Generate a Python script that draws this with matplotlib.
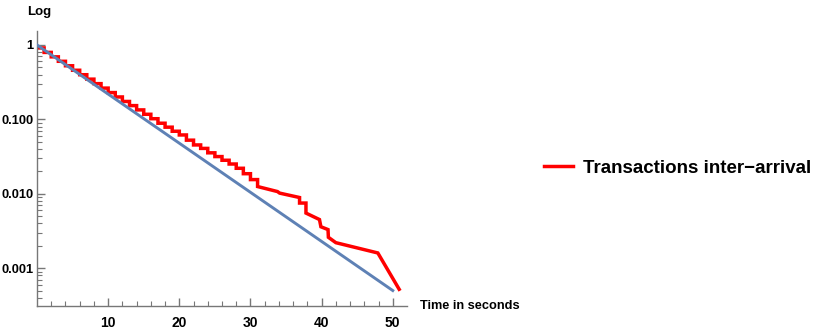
import numpy as np
import matplotlib
matplotlib.use("Agg")
import matplotlib.pyplot as plt
from matplotlib.ticker import FixedLocator, NullFormatter

plt.rcParams['font.family'] = ['Liberation Sans', 'DejaVu Sans']

# red staircase: level held on [k, k+1] for k = 0..30
step_start = list(range(0, 31))
step_level = [0.912, 0.794, 0.692, 0.603, 0.525, 0.457, 0.398, 0.347, 0.302, 0.263,
              0.229, 0.200, 0.174, 0.153, 0.134, 0.117, 0.102, 0.0887, 0.0785, 0.0692,
              0.0617, 0.0525, 0.0453, 0.0407, 0.0355, 0.0316, 0.0282, 0.0251, 0.0220, 0.0186,
              0.0155]

# red tail after the staircase
tail_t = [31.0, 31.0, 33.8, 34.1, 36.9, 36.9, 37.8, 37.8, 39.7, 39.9, 40.9, 40.95, 42.0, 47.9, 50.9]
tail_p = [0.0155, 0.0125, 0.0107, 0.0102, 0.0089, 0.0075, 0.0075, 0.0055, 0.0045, 0.0036,
          0.0033, 0.0026, 0.0022, 0.0016, 0.00052]

# exponential fit line (endpoints)
fit_t = [0, 50]
fit_p = [1.0, 5.0e-4]

xticks = [10, 20, 30, 40, 50]
yticks = [1, 0.1, 0.01, 0.001]
ylabels = ["1", "0.100", "0.010", "0.001"]

# build staircase polyline
red_t = []
red_p = []
for k, lv in zip(step_start, step_level):
    red_t += [k, k + 1]
    red_p += [lv, lv]
red_t += tail_t
red_p += tail_p

fit_x = np.linspace(fit_t[0], fit_t[1], 100)
fit_y = np.exp(np.interp(fit_x, fit_t, np.log(fit_p)))

fig = plt.figure(figsize=(8.3, 3.32), dpi=100)
ax = fig.add_axes([37 / 830, 26 / 332, 370 / 830, 275 / 332])

ax.plot(red_t, red_p, color=(1, 0, 0), lw=2.5, solid_joinstyle='miter',
        label="Transactions inter\u2212arrival", zorder=2)
ax.plot(fit_x, fit_y, color='#5E81B5', lw=2.1, zorder=3)

ax.set_yscale('log')
ax.set_xlim(0, 52)
ax.set_ylim(3.1e-4, 1.54)

gray = '#777777'
for s in ['top', 'right']:
    ax.spines[s].set_visible(False)
for s in ['left', 'bottom']:
    ax.spines[s].set_color(gray)
    ax.spines[s].set_linewidth(1.0)

ax.xaxis.set_major_locator(FixedLocator(xticks))
ax.xaxis.set_minor_locator(FixedLocator([v for v in range(2, 52, 2) if v % 10]))
ax.set_xticklabels([str(v) for v in xticks])
ax.yaxis.set_major_locator(FixedLocator(yticks))
ax.set_yticklabels(ylabels)
ax.yaxis.set_minor_locator(FixedLocator([m * 10.0 ** e for e in range(-4, 1) for m in range(2, 10)]))
ax.yaxis.set_minor_formatter(NullFormatter())

ax.tick_params(which='major', direction='in', length=6, width=1.0, color=gray)
ax.tick_params(which='minor', direction='in', length=3.5, width=0.8, color=gray)
ax.tick_params(axis='y', which='major', labelsize=9.3, pad=2.5)
ax.tick_params(axis='x', which='major', labelsize=10, pad=7)
for lab in ax.get_xticklabels() + ax.get_yticklabels():
    lab.set_fontweight('bold')

fig.text(27 / 830, 1 - 12 / 332, "Log", fontsize=9.5, fontweight='bold',
         ha='left', va='center')
fig.text(420 / 830, 1 - 306 / 332, "Time in seconds", fontsize=9.2, fontweight='bold',
         ha='left', va='center')

leg = fig.legend(loc='center left', bbox_to_anchor=(544 / 830, 1 - 168 / 332),
                 frameon=False, prop={'size': 13.5, 'weight': 'bold'},
                 borderpad=0, borderaxespad=0,
                 handlelength=1.55, handletextpad=0.55)

fig.savefig("out.png", dpi=100)
